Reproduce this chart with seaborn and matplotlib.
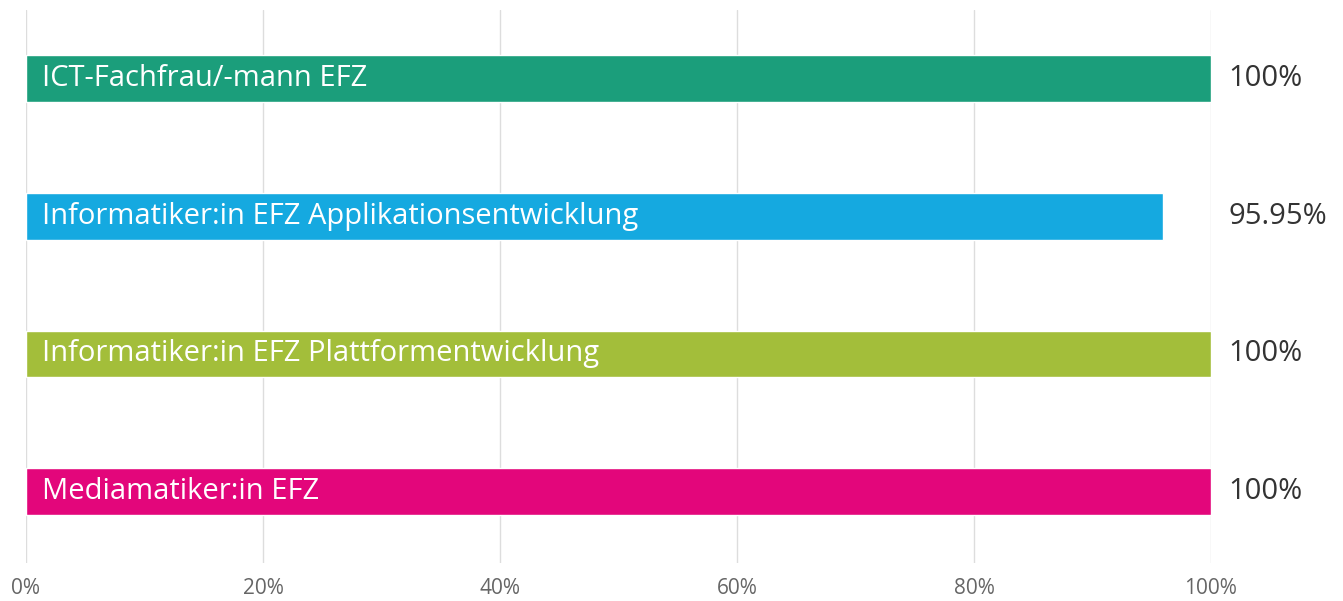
import pandas as pd
import matplotlib.pyplot as plt
import seaborn as sns

categories = [
    "ICT-Fachfrau/-mann EFZ",
    "Informatiker:in EFZ Applikationsentwicklung",
    "Informatiker:in EFZ Plattformentwicklung",
    "Mediamatiker:in EFZ",
]
values = [100, 95.95, 100, 100]
value_labels = ["100%", "95.95%", "100%", "100%"]
colors = ["#1b9e7b", "#15a9e0", "#a3be3a", "#e3067b"]
ticks = [0, 20, 40, 60, 80, 100]

df = pd.DataFrame({"category": categories, "value": values})

sns.set_style("white")
plt.rcParams["font.family"] = ["Open Sans", "DejaVu Sans"]

fig = plt.figure(figsize=(13.43, 6.01), dpi=100)
ax = fig.add_axes([26 / 1343, 1 - 563 / 601, 1185 / 1343, 553 / 601])

sns.barplot(data=df, x="value", y="category", hue="category", palette=colors,
            orient="h", width=0.34, saturation=1, legend=False, ax=ax, zorder=3)

ax.set_xlim(0, 100)
ax.set_ylim(3.52, -0.5)
ax.set_xticks(ticks)
ax.set_xticklabels([f"{t}%" for t in ticks], fontsize=15, color="#666666")
ax.tick_params(axis="x", length=0, pad=11)
ax.set_yticks([])
ax.set_xlabel("")
ax.set_ylabel("")
ax.grid(axis="x", color="#dddddd", linewidth=1, zorder=0)
for s in ax.spines.values():
    s.set_visible(False)

for i, (cat, lab) in enumerate(zip(categories, value_labels)):
    ax.text(1.35, i, cat, color="white", fontsize=21, va="center", ha="left", zorder=4)
    ax.text(101.5, i, lab, color="#333333", fontsize=21, va="center", ha="left",
            clip_on=False)

fig.savefig("out.png", dpi=100)
